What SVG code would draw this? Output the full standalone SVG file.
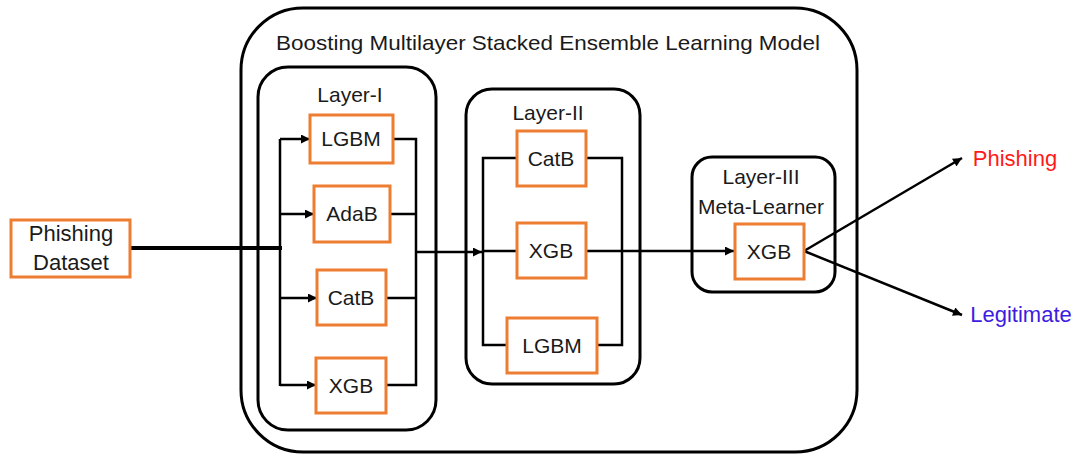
<svg xmlns="http://www.w3.org/2000/svg" width="1079" height="455" viewBox="0 0 1079 455">
  <style>
    .frame { fill: none; stroke: #000; stroke-width: 3; }
    .node rect { fill: #fff; stroke: #ED7D31; stroke-width: 3; }
    text { font-family: "Liberation Sans", Arial, sans-serif; font-size: 21px; fill: #1a1a1a; text-anchor: middle; }
    .wire { fill: none; stroke: #000; stroke-width: 2.5; }
    .arrow { marker-end: url(#tip); }
  </style>
  <defs>
    <marker id="tip" viewBox="0 0 10 10" refX="10" refY="5" markerWidth="10" markerHeight="9" markerUnits="userSpaceOnUse" orient="auto">
      <path d="M0,0 L10,5 L0,10 z" fill="#000"/>
    </marker>
  </defs>

  <rect width="1079" height="455" fill="#fff"/>

  <!-- containers -->
  <g id="model">
    <rect class="frame" x="241" y="8" width="616" height="444" rx="62" ry="62"/>
    <text x="548" y="50" textLength="544" lengthAdjust="spacingAndGlyphs">Boosting Multilayer Stacked Ensemble Learning Model</text>
  </g>
  <g id="layer1">
    <rect class="frame" x="258" y="67" width="178" height="363" rx="30" ry="30"/>
    <text x="350" y="102">Layer-I</text>
  </g>
  <g id="layer2">
    <rect class="frame" x="466" y="89" width="174" height="295" rx="26" ry="26"/>
    <text x="548" y="120">Layer-II</text>
  </g>
  <g id="layer3">
    <rect class="frame" x="692" y="157" width="143" height="135" rx="20" ry="20"/>
    <text x="761" y="184">Layer-III</text>
    <text x="761" y="214">Meta-Learner</text>
  </g>

  <!-- connectors -->
  <g id="connectors">
    <line x1="130" y1="248" x2="282" y2="248" stroke="#000" stroke-width="4"/>
    <line class="wire" x1="280" y1="139" x2="280" y2="386"/>
    <line class="wire arrow" x1="280" y1="139" x2="310" y2="139"/>
    <line class="wire arrow" x1="280" y1="214" x2="314" y2="214"/>
    <line class="wire arrow" x1="280" y1="298" x2="317" y2="298"/>
    <line class="wire arrow" x1="280" y1="385" x2="316" y2="385"/>
    <polyline class="wire" points="393,139 416,139 416,385 386,385"/>
    <line class="wire" x1="390" y1="214" x2="416" y2="214"/>
    <line class="wire" x1="386" y1="298" x2="416" y2="298"/>
    <line class="wire arrow" x1="416" y1="252" x2="482" y2="252"/>
    <polyline class="wire" points="517,158 483,158 483,345 507,345"/>
    <line class="wire" x1="483" y1="251" x2="517" y2="251"/>
    <polyline class="wire" points="586,158 622,158 622,345 597,345"/>
    <line class="wire arrow" x1="586" y1="251" x2="734" y2="251"/>
    <line class="wire arrow" x1="804" y1="251" x2="962" y2="158"/>
    <line class="wire arrow" x1="804" y1="251" x2="962" y2="315"/>
  </g>

  <!-- nodes -->
  <g id="dataset" class="node">
    <rect x="11" y="220" width="119" height="57"/>
    <text x="71" y="241" style="font-size:22px">Phishing</text>
    <text x="71" y="270" style="font-size:22px">Dataset</text>
  </g>
  <g id="l1-lgbm" class="node">
    <rect x="310" y="115" width="83" height="48"/>
    <text x="351" y="146">LGBM</text>
  </g>
  <g id="l1-adab" class="node">
    <rect x="314" y="186" width="76" height="56"/>
    <text x="352" y="221">AdaB</text>
  </g>
  <g id="l1-catb" class="node">
    <rect x="317" y="270" width="69" height="55"/>
    <text x="351" y="305">CatB</text>
  </g>
  <g id="l1-xgb" class="node">
    <rect x="316" y="358" width="70" height="55"/>
    <text x="351" y="393">XGB</text>
  </g>
  <g id="l2-catb" class="node">
    <rect x="517" y="131" width="69" height="55"/>
    <text x="551" y="166">CatB</text>
  </g>
  <g id="l2-xgb" class="node">
    <rect x="517" y="223" width="69" height="55"/>
    <text x="551" y="258">XGB</text>
  </g>
  <g id="l2-lgbm" class="node">
    <rect x="507" y="318" width="90" height="55"/>
    <text x="552" y="353">LGBM</text>
  </g>
  <g id="meta-xgb" class="node">
    <rect x="735" y="224" width="69" height="55"/>
    <text x="769" y="259">XGB</text>
  </g>

  <!-- outcomes -->
  <g id="out-phishing">
    <text x="1015" y="166" style="fill:#FF1A1A;font-size:22px">Phishing</text>
  </g>
  <g id="out-legitimate">
    <text x="1021" y="322" style="fill:#3D1CE0;font-size:22px">Legitimate</text>
  </g>
</svg>
